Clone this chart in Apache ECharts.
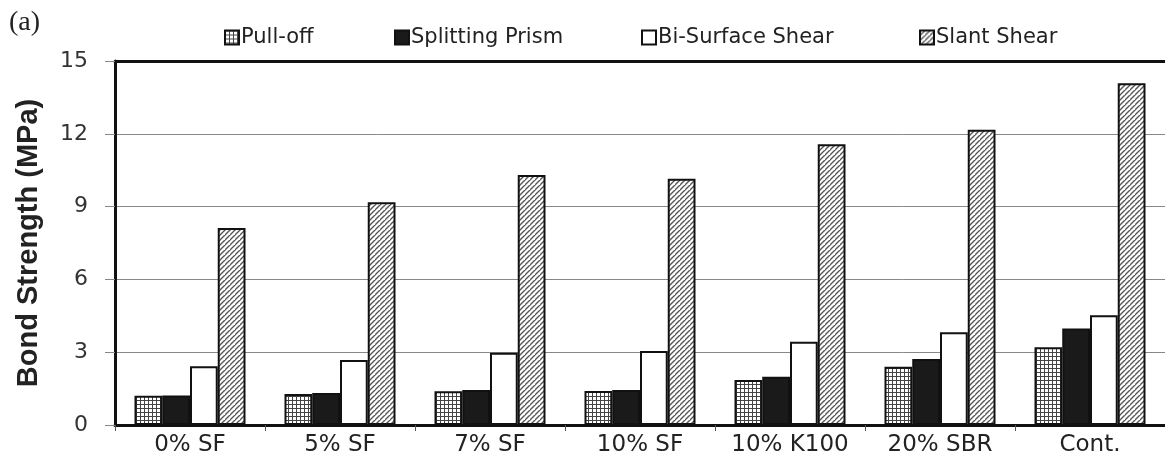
<!DOCTYPE html>
<html><head><meta charset="utf-8">
<script src="https://cdn.jsdelivr.net/npm/echarts@6/dist/echarts.min.js"></script>
<style>html,body{margin:0;padding:0;background:#fff}#c{width:1165px;height:461px}</style>
</head><body><div id="c"></div>
<script>
const categories = ['0% SF','5% SF','7% SF','10% SF','10% K100','20% SBR','Cont.'];
const seriesNames = ['Pull-off','Splitting Prism','Bi-Surface Shear','Slant Shear'];
const pullOff = [1.21, 1.28, 1.39, 1.40, 1.85, 2.40, 3.20];
const splitting = [1.22, 1.32, 1.44, 1.44, 1.99, 2.72, 3.98];
const biSurface = [2.42, 2.68, 2.98, 3.05, 3.43, 3.82, 4.52];
const slant = [8.12, 9.18, 10.30, 10.15, 11.57, 12.17, 14.08];
const yTicks = [0, 3, 6, 9, 12, 15];

function gridPattern(){
  const c = document.createElement('canvas'); c.width = 4; c.height = 4;
  const g = c.getContext('2d');
  g.fillStyle = '#fff'; g.fillRect(0,0,4,4);
  g.fillStyle = '#444'; g.fillRect(0,0,4,1); g.fillRect(0,0,1,4);
  return c;
}
function hatchPattern(){
  const s = 5;
  const c = document.createElement('canvas'); c.width = s; c.height = s;
  const g = c.getContext('2d');
  g.fillStyle = '#fff'; g.fillRect(0,0,s,s);
  g.strokeStyle = '#555'; g.lineWidth = 1.4;
  g.beginPath();
  g.moveTo(-1, s+1); g.lineTo(s+1, -1);
  g.moveTo(-1-s, s+1); g.lineTo(1, -1);
  g.moveTo(s-1, 2*s+1); g.lineTo(2*s+1, s-1);
  g.stroke();
  return c;
}
const fills = [
  {image: gridPattern(), repeat: 'repeat'},
  '#1a1a1a',
  '#ffffff',
  {image: hatchPattern(), repeat: 'repeat'}
];
const dataSets = [pullOff, splitting, biSurface, slant];
const legendLeft = [219, 389, 636, 914];

const chart = echarts.init(document.getElementById('c'));
chart.setOption({
  animation: false,
  backgroundColor: '#fff',
  title: {text: '(a)', left: 4, top: 4, textStyle: {fontFamily: 'Liberation Serif', fontSize: 28, fontWeight: 'normal', color: '#222'}},
  legend: seriesNames.map((n, i) => ({
    top: 22, left: legendLeft[i], itemWidth: 14, itemHeight: 14, icon: 'rect',
    textStyle: {fontFamily: 'DejaVu Sans', fontSize: 21, color: '#222', padding: [0,0,0,-3]},
    data: [n]
  })),
  grid: {left: 115, right: -6, top: 61, bottom: 36},
  xAxis: [{
    type: 'category', data: categories,
    axisLine: {lineStyle: {color: '#111', width: 3}},
    axisTick: {show: true, length: 6, lineStyle: {color: '#555', width: 1}},
    axisLabel: {interval: 0, fontFamily: 'DejaVu Sans', fontSize: 23, color: '#222', margin: 9}
  },{
    type: 'category', data: categories, position: 'top',
    axisLine: {show: true, lineStyle: {color: '#111', width: 3}},
    axisTick: {show: false}, axisLabel: {show: false}
  }],
  yAxis: {
    type: 'value', min: 0, max: 15, interval: 3,
    name: 'Bond Strength (MPa)', nameLocation: 'middle', nameGap: 72, nameRotate: 90,
    nameTextStyle: {fontFamily: 'Liberation Sans', fontSize: 29, fontWeight: 'bold', color: '#222'},
    axisLine: {show: true, lineStyle: {color: '#111', width: 3}},
    axisTick: {show: true, length: 10, lineStyle: {color: '#888', width: 1}},
    axisLabel: {fontFamily: 'DejaVu Sans', fontSize: 22, color: '#333', margin: 27,
      formatter: v => yTicks.includes(v) ? String(v) : ''},
    splitLine: {lineStyle: {color: '#888', width: 1}}
  },
  series: seriesNames.map((n, i) => ({
    name: n, type: 'bar', data: dataSets[i],
    barGap: '0%', barCategoryGap: '26%',
    itemStyle: {color: fills[i], borderColor: '#111', borderWidth: 2}
  }))
});
</script></body></html>
